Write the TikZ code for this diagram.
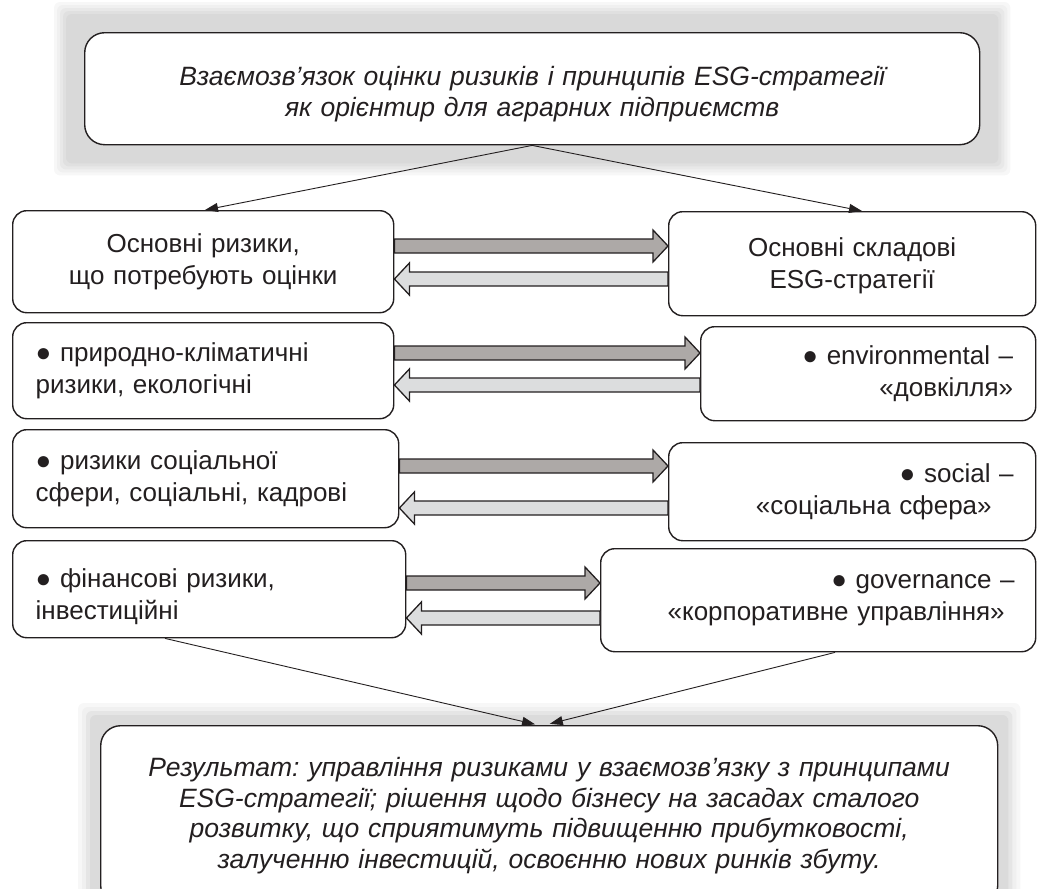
\documentclass[tikz,border=0pt]{standalone}
\usepackage{fontspec}
\setmainfont{Liberation Sans}
\frenchspacing
\usetikzlibrary{calc,arrows.meta,backgrounds}
\definecolor{ink}{HTML}{231F20}
\definecolor{darkfill}{HTML}{ADA9A7}
\definecolor{lightfill}{HTML}{DCDDDE}
\tikzset{
  box/.style={draw=ink, line width=1.4pt, rounded corners=14pt, fill=white, text=ink,
    font=\fontsize{26}{32}\selectfont, inner xsep=23pt, inner ysep=0pt, anchor=north west},
  bigbox/.style={box, rounded corners=20pt, font=\fontsize{26.5}{30.5}\selectfont\itshape},
  conn/.style={draw=ink, line width=0.9pt, -{Triangle[length=13pt,width=9pt]}},
}
\newcommand\blockarrow[4]{%
  \draw[fill=#3, draw=ink, line width=1.3pt, line join=miter] let \p1=(#1), \p2=(#2), \n1={(#4)*15} in
    ({\x1},{\y1+7pt}) -- ({\x2-\n1*1pt},{\y1+7pt}) -- ({\x2-\n1*1pt},{\y1+16pt}) -- ({\x2},{\y1})
    -- ({\x2-\n1*1pt},{\y1-16pt}) -- ({\x2-\n1*1pt},{\y1-7pt}) -- ({\x1},{\y1-7pt}) -- cycle;}
\begin{document}
\begin{tikzpicture}[x=1pt,y=-1pt]
\clip (0,0) rectangle (1061,889);

% boxes
\node[bigbox, minimum width=895pt, minimum height=112pt, text width=849pt, align=center] (top) at (84,32)
  {\rule{0pt}{30pt}Взаємозв’язок оцінки ризиків і принципів ESG-стратегії\\як орієнтир для аграрних підприємств};

\node[box, minimum width=381pt, minimum height=102pt, text width=335pt, align=center] (L1) at (12,210)
  {Основні ризики,\\що потребують оцінки};
\node[box, minimum width=367pt, minimum height=104pt, text width=321pt, align=center] (R1) at (668,211)
  {\rule{0pt}{23pt}Основні складові\\ESG-стратегії};

\node[box, minimum width=381pt, minimum height=96pt, text width=335pt, align=left] (L2) at (12,322)
  {● природно-кліматичні\\ризики, екологічні};
\node[box, minimum width=335pt, minimum height=94pt, text width=290pt, inner xsep=22pt, align=right] (R2) at (700,326)
  {● environmental –\\«довкілля»};

\node[box, minimum width=386pt, minimum height=98pt, text width=340pt, align=left] (L3) at (12,429)
  {● ризики соціальної\\сфери, соціальні, кадрові};
\node[box, minimum width=367pt, minimum height=98pt, text width=323pt, inner xsep=22pt, align=right] (R3) at (668,442)
  {● social –\\«соціальна сфера»\hspace*{22pt}};

\node[box, minimum width=393pt, minimum height=97pt, text width=347pt, align=left] (L4) at (12,540)
  {\rule{0pt}{34pt}● фінансові ризики,\\інвестиційні};
\node[box, minimum width=435pt, minimum height=103pt, text width=393pt, inner xsep=21pt, align=right] (R4) at (600,548)
  {● governance –\\«корпоративне управління»\hspace*{10pt}};

\node[bigbox, minimum width=897pt, minimum height=180pt, text width=851pt, align=center] (bot) at (100,725)
  {Результат: управління ризиками у взаємозв’язку з принципами\\ESG-стратегії; рішення щодо бізнесу на засадах сталого\\розвитку, що сприятимуть підвищенню прибутковості,\\залученню інвестицій, освоєнню нових ринків збуту.};

% glows
\begin{scope}[on background layer]
  \foreach \d/\c in {30/3,27/6,24/9,21/12,18/15}
    \fill[black!\c, rounded corners=6pt] ($(top.south west)+(-\d,\d)$) rectangle ($(top.north east)+(\d,-\d)$);
  \foreach \d/\c in {22/3,18/6,14/10,10/14}
    \fill[black!\c, rounded corners=6pt] ($(bot.south west)+(-\d,\d)$) rectangle ($(bot.north east)+(\d,-\d)$);
\end{scope}

% thin connectors
\coordinate (t1) at (L1.north -| 205,0);
\coordinate (t2) at (R1.north -| 862,0);
\coordinate (b1) at (L4.south -| 165,0);
\coordinate (b2) at (R4.south -| 835,0);
\coordinate (e1) at (bot.north -| 538,0);
\coordinate (e2) at (bot.north -| 545,0);
\draw[conn] (top.south) -- (t1);
\draw[conn] (top.south) -- (t2);
\draw[conn, shorten >=3pt] (b1) -- (e1);
\draw[conn, shorten >=5pt] (b2) -- (e2);

% block arrows
\coordinate (a1s) at (L1.east |- 0,246); \coordinate (a1e) at (R1.west |- 0,246);
\coordinate (c1s) at (R1.west |- 0,279); \coordinate (c1e) at (L1.east |- 0,279);
\coordinate (a2s) at (L2.east |- 0,353); \coordinate (a2e) at (R2.west |- 0,353);
\coordinate (c2s) at (R2.west |- 0,385); \coordinate (c2e) at (L2.east |- 0,385);
\coordinate (a3s) at (L3.east |- 0,466); \coordinate (a3e) at (R3.west |- 0,466);
\coordinate (c3s) at (R3.west |- 0,508); \coordinate (c3e) at (L3.east |- 0,508);
\coordinate (a4s) at (L4.east |- 0,583); \coordinate (a4e) at (R4.west |- 0,583);
\coordinate (c4s) at (R4.west |- 0,618); \coordinate (c4e) at (L4.east |- 0,618);
\blockarrow{a1s}{a1e}{darkfill}{1}
\blockarrow{c1s}{c1e}{lightfill}{-1}
\blockarrow{a2s}{a2e}{darkfill}{1}
\blockarrow{c2s}{c2e}{lightfill}{-1}
\blockarrow{a3s}{a3e}{darkfill}{1}
\blockarrow{c3s}{c3e}{lightfill}{-1}
\blockarrow{a4s}{a4e}{darkfill}{1}
\blockarrow{c4s}{c4e}{lightfill}{-1}
\end{tikzpicture}
\end{document}
